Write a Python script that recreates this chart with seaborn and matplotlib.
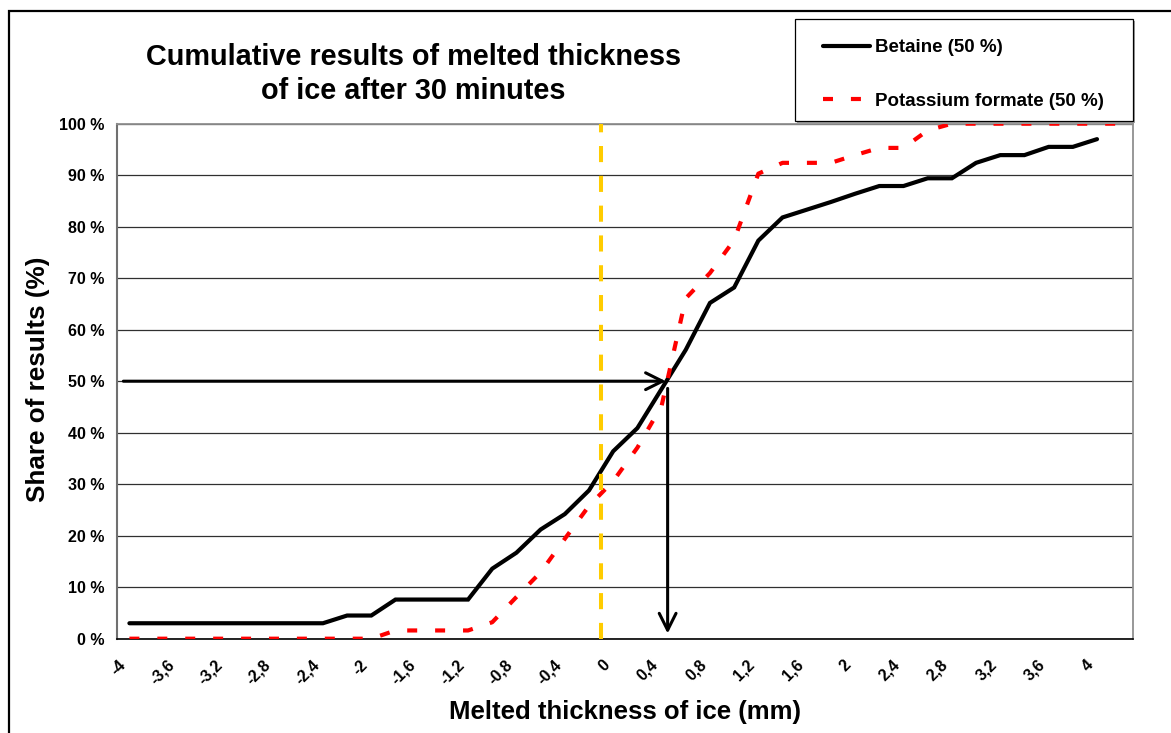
import numpy as np
import pandas as pd
import matplotlib
matplotlib.use("Agg")
import matplotlib.pyplot as plt
from matplotlib.patches import Rectangle
import matplotlib.transforms as mtransforms
import seaborn as sns

# ---------------- data ----------------
betaine_x = [-3.9, -3.7, -3.5, -3.3, -3.1, -2.9, -2.7, -2.5, -2.3, -2.1, -1.9,
             -1.7, -1.5, -1.3, -1.1, -0.9, -0.7, -0.5, -0.3, -0.1, 0.1, 0.3,
             0.5, 0.7, 0.9, 1.1, 1.3, 1.5, 1.7, 1.9, 2.1, 2.3, 2.5, 2.7, 2.9,
             3.1, 3.3, 3.5, 3.7, 3.9, 4.1]
betaine_pct = [3.0, 3.0, 3.0, 3.0, 3.0, 3.0, 3.0, 3.0, 3.0, 4.5, 4.5,
               7.6, 7.6, 7.6, 7.6, 13.6, 16.7, 21.2, 24.2, 28.8, 36.4, 40.9,
               48.5, 56.1, 65.2, 68.2, 77.3, 81.8, 83.3, 84.8, 86.4, 87.9, 87.9, 89.4, 89.4,
               92.4, 93.9, 93.9, 95.5, 95.5, 97.0]

formate_x = [-3.9, -3.7, -3.5, -3.3, -3.1, -2.9, -2.7, -2.5, -2.3, -2.1, -1.9,
             -1.7, -1.5, -1.3, -1.1, -0.9, -0.7, -0.5, -0.3, -0.1, 0.1, 0.3,
             0.5, 0.7, 0.9, 1.1, 1.3, 1.5, 1.7, 1.9, 2.1, 2.3, 2.5, 2.7, 2.9,
             3.1, 3.3, 3.5, 3.7, 3.9, 4.1, 4.3]
formate_pct = [0, 0, 0, 0, 0, 0, 0, 0, 0, 0, 0,
               1.6, 1.6, 1.6, 1.6, 3.2, 8.1, 12.9, 19.4, 25.8, 30.6, 37.1,
               45.2, 66.1, 71.0, 77.4, 90.3, 92.4, 92.4, 92.4, 93.9, 95.3, 95.3, 98.7, 100,
               100, 100, 100, 100, 100, 100, 100]

series_names = ["Betaine (50 %)", "Potassium formate (50 %)"]

x_tick_values = [-4.0, -3.8, -3.6, -3.4, -3.2, -3.0, -2.8, -2.6, -2.4, -2.2, -2.0,
                 -1.8, -1.6, -1.4, -1.2, -1.0, -0.8, -0.6, -0.4, -0.2, 0.0,
                 0.2, 0.4, 0.6, 0.8, 1.0, 1.2, 1.4, 1.6, 1.8, 2.0,
                 2.2, 2.4, 2.6, 2.8, 3.0, 3.2, 3.4, 3.6, 3.8, 4.0, 4.2, 4.4]
x_tick_labels = ["-4", "", "-3,6", "", "-3,2", "", "-2,8", "", "-2,4", "", "-2",
                 "", "-1,6", "", "-1,2", "", "-0,8", "", "-0,4", "", "0",
                 "", "0,4", "", "0,8", "", "1,2", "", "1,6", "", "2",
                 "", "2,4", "", "2,8", "", "3,2", "", "3,6", "", "4", "", ""]
y_tick_values = [0, 10, 20, 30, 40, 50, 60, 70, 80, 90, 100]
y_tick_labels = ["0 %", "10 %", "20 %", "30 %", "40 %", "50 %", "60 %",
                 "70 %", "80 %", "90 %", "100 %"]

median_share = 50
median_x = 0.54

# ---------------- style ----------------
sns.set_theme(style="white")
plt.rcParams["font.family"] = ["Liberation Sans", "DejaVu Sans"]
plt.rcParams["font.weight"] = "bold"
plt.rcParams["text.color"] = "black"
plt.rcParams["axes.labelcolor"] = "black"
plt.rcParams["xtick.color"] = "black"
plt.rcParams["ytick.color"] = "black"

W, H = 1171, 733
fig = plt.figure(figsize=(W / 100, H / 100), dpi=100)
fig.patch.set_facecolor("white")


def fx(px):
    return px / W


def fy(py):
    return 1 - py / H


ax = fig.add_axes([fx(117.3), fy(638.7), fx(1133.3) - fx(117.3), fy(123.7) - fy(638.7)])
ax.set_facecolor("white")

df = pd.concat([
    pd.DataFrame({"x": betaine_x, "pct": betaine_pct, "series": series_names[0]}),
    pd.DataFrame({"x": formate_x, "pct": formate_pct, "series": series_names[1]}),
], ignore_index=True)

sns.lineplot(data=df, x="x", y="pct", hue="series", style="series",
             palette={series_names[0]: "black", series_names[1]: "#FF0000"},
             dashes={series_names[0]: "", series_names[1]: (2.4, 4.3)},
             linewidth=3.0, sort=False, estimator=None, legend=False, ax=ax, zorder=3)
lines = ax.get_lines()
lines[0].set_solid_capstyle("round")
lines[0].set_solid_joinstyle("miter")
lines[1].set_dash_capstyle("butt")

# yellow zero line
ax.axvline(0, color="#FFCC00", lw=2.9, dashes=(4.0, 3.4), zorder=4)

# arrows
ax.annotate("", xy=(median_x - 0.005, median_share), xytext=(-3.95, median_share),
            arrowprops=dict(arrowstyle="->,head_length=1.1,head_width=0.55",
                            lw=2.2, color="black", mutation_scale=11,
                            shrinkA=0, shrinkB=0), zorder=5)
ax.annotate("", xy=(median_x + 0.01, 1.0), xytext=(median_x + 0.01, 48.6),
            arrowprops=dict(arrowstyle="->,head_length=1.1,head_width=0.55",
                            lw=2.2, color="black", mutation_scale=11,
                            shrinkA=0, shrinkB=0), zorder=5)

ax.set_xlim(-4.0, 4.4)
ax.set_ylim(0, 100)
ax.set_xticks(x_tick_values)
ax.set_xticklabels(x_tick_labels)
ax.set_yticks(y_tick_values)
ax.set_yticklabels(y_tick_labels)
ax.set_xlabel("")
ax.set_ylabel("")

ax.yaxis.grid(True, color="#303030", lw=0.9)
ax.xaxis.grid(False)
ax.set_axisbelow(True)

ax.tick_params(axis="both", which="major", direction="out", length=4.5, width=1.0,
               color="black", labelsize=11.5, labelcolor="black")
ax.tick_params(axis="y", pad=5)
ax.tick_params(axis="x", pad=12.5)
offset = mtransforms.ScaledTranslation(6 / 100, 0, fig.dpi_scale_trans)
for lab in ax.get_xticklabels():
    lab.set_rotation(45)
    lab.set_ha("right")
    lab.set_va("center")
    lab.set_rotation_mode("anchor")
    lab.set_fontweight("bold")
    lab.set_transform(lab.get_transform() + offset)
for lab in ax.get_yticklabels():
    lab.set_fontweight("bold")

for side in ["top", "right"]:
    ax.spines[side].set_color("#909090")
    ax.spines[side].set_linewidth(1.3)
ax.spines["left"].set_color("#707070")
ax.spines["left"].set_linewidth(1.5)
ax.spines["bottom"].set_color("black")
ax.spines["bottom"].set_linewidth(1.2)

# titles / labels
fig.text(fx(413), fy(74), "Cumulative results of melted thickness\nof ice after 30 minutes",
         ha="center", va="center", fontsize=20.8, fontweight="bold", linespacing=1.28,
         color="black")
fig.text(fx(625), fy(712), "Melted thickness of ice (mm)", ha="center", va="center",
         fontsize=18.5, fontweight="bold", color="black")
fig.text(fx(38), fy(379), "Share of results (%)", ha="center", va="center",
         rotation=90, fontsize=18.8, fontweight="bold", color="black")

# legend box
fig.patches.append(Rectangle((fx(797), fy(122.7)), fx(1135.3) - fx(797), fy(21.3) - fy(122.7),
                             transform=fig.transFigure, facecolor="#A0A0A0",
                             edgecolor="none", zorder=1))
fig.patches.append(Rectangle((fx(795), fy(120.7)), fx(1133.3) - fx(795), fy(19.3) - fy(120.7),
                             transform=fig.transFigure, facecolor="white",
                             edgecolor="black", lw=0.9, zorder=2))
leg = fig.legend(lines, series_names, loc="upper left",
                 bbox_to_anchor=(fx(822.7), fy(39)), frameon=False,
                 borderpad=0, borderaxespad=0, handlelength=2.5, handletextpad=0.3,
                 labelspacing=1.95, prop={"size": 13.5, "weight": "bold"})
for t in leg.get_texts():
    t.set_color("black")
leg.set_zorder(10)

# outer chart border
fig.patches.append(Rectangle((fx(9), fy(745)), fx(1180) - fx(9), fy(11) - fy(745),
                             transform=fig.transFigure, facecolor="none",
                             edgecolor="black", lw=1.6, zorder=0))

fig.savefig("out.png", dpi=100, facecolor="white")
